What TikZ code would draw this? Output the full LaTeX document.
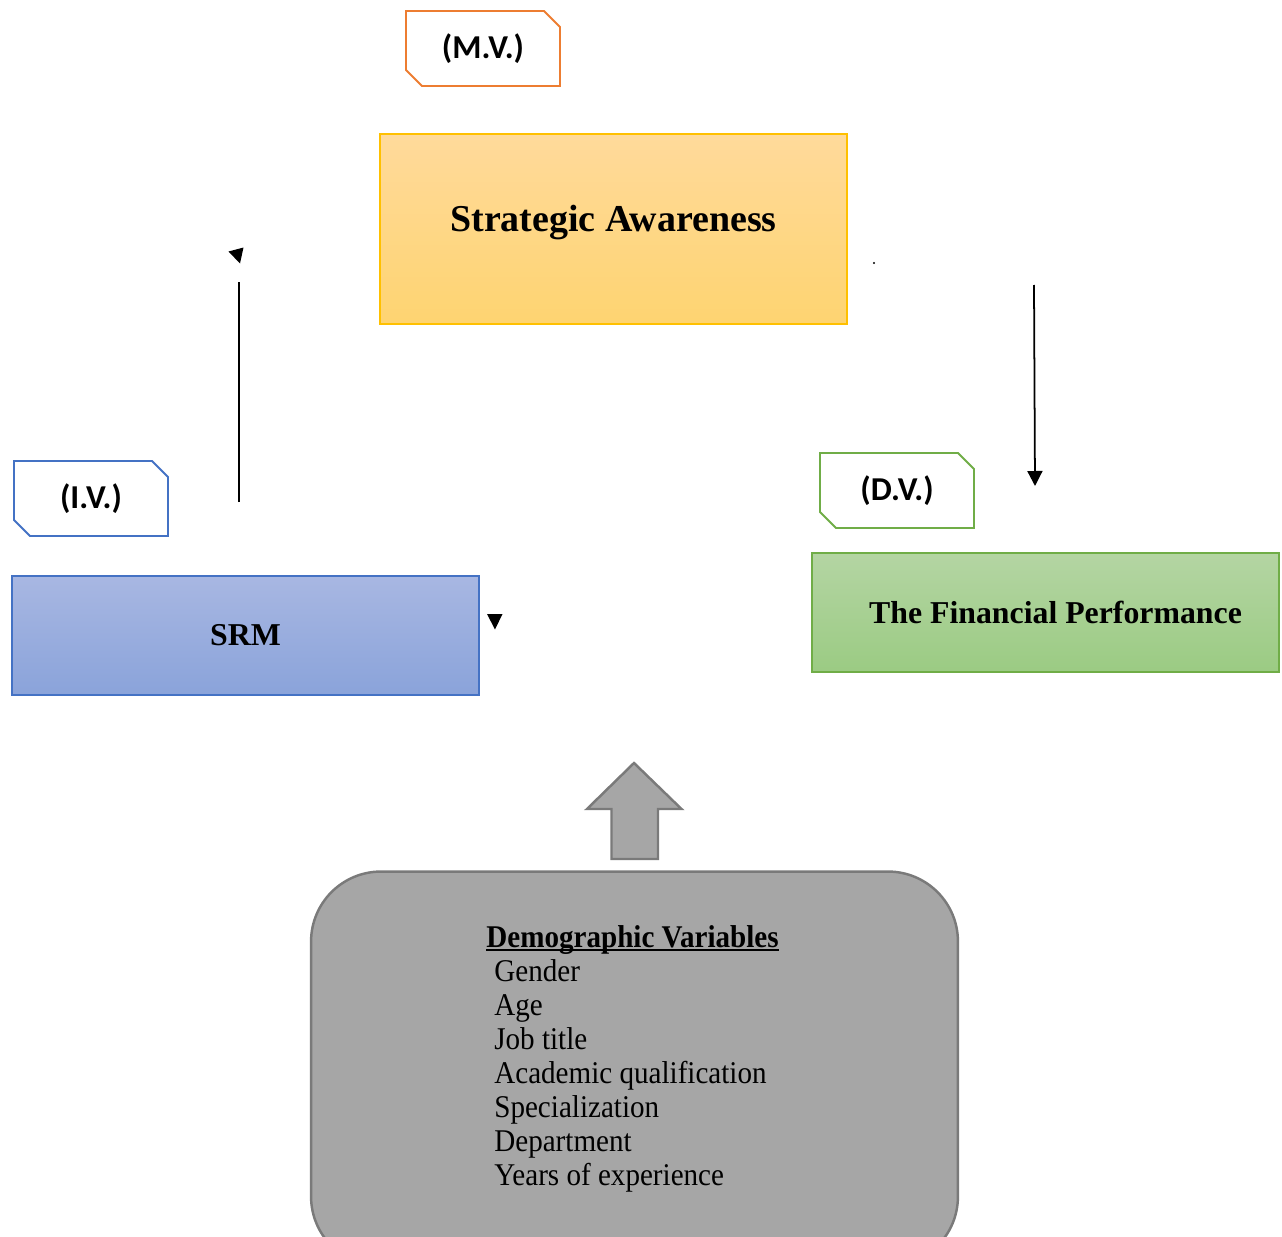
\documentclass[tikz,border=0pt]{standalone}
\usepackage{fontspec}
\setmainfont{Liberation Serif}
\newfontfamily\tagfont{Carlito}
\newfontfamily\demofont[FakeStretch=0.92]{Liberation Serif}
\usetikzlibrary{arrows.meta,calc,shapes.misc}

\definecolor{mvorange}{HTML}{ED7D31}
\definecolor{ivblue}{HTML}{4472C4}
\definecolor{dvgreen}{HTML}{70AD47}
\definecolor{saline}{HTML}{FFC000}
\definecolor{satop}{HTML}{FFDA9B}
\definecolor{sabot}{HTML}{FED471}
\definecolor{srmtop}{HTML}{A8B7E2}
\definecolor{srmbot}{HTML}{8AA3DA}
\definecolor{fptop}{HTML}{B4D5A3}
\definecolor{fpbot}{HTML}{9BCB83}
\definecolor{demofill}{HTML}{A6A6A6}
\definecolor{demoline}{HTML}{7A7A7A}

\begin{document}
\begin{tikzpicture}[x=0.02cm,y=-0.02cm,line join=miter,
  tag/.style={chamfered rectangle, chamfered rectangle corners={north east,south west},
    chamfered rectangle xsep=0.16cm, chamfered rectangle ysep=0.16cm,
    minimum width=3.08cm, minimum height=1.5cm, inner sep=0pt, fill=white,
    line width=1.1pt, font=\tagfont\bfseries\fontsize{19pt}{21pt}\selectfont},
  varbox/.style={draw, line width=0.8pt, minimum width=9.34cm, inner sep=0pt},
  boxtext/.style={inner sep=0pt, font=\bfseries\fontsize{18.1pt}{21pt}\selectfont},
  demotext/.style={anchor=base west, inner sep=0pt, font=\demofont\fontsize{18pt}{19.3pt}\selectfont},
  tip/.style={fill=black, draw=none}]
  \useasboundingbox (0,0) rectangle (1282,1237);
  \clip (0,0) rectangle (1282,1237);

  % Variable boxes
  \node[varbox, draw=saline, top color=satop, bottom color=sabot, minimum height=3.8cm] (sa) at (613.5,229) {};
  \node[boxtext, font=\bfseries\fontsize{21.6pt}{25pt}\selectfont] (satext) at ($(sa.center)+(0,-6)$) {Strategic Awareness};
  \node[varbox, draw=ivblue, top color=srmtop, bottom color=srmbot, minimum height=2.38cm, boxtext] (srm) at (245.5,635.5) {SRM};
  \node[varbox, draw=dvgreen, top color=fptop, bottom color=fpbot, minimum height=2.38cm] (fp) at (1045.5,612.5) {};
  \node[boxtext] (fptext) at ($(fp.center)+(10,0)$) {The Financial Performance};

  % Tags
  \node[tag, draw=mvorange] (mv) at (483,48.5) {(M.V.)};
  \node[tag, draw=ivblue] (iv) at (91,498.5) {(I.V.)};
  \node[tag, draw=dvgreen] (dv) at (897,490.5) {(D.V.)};

  % Arrows (heads drawn loose, as in the original)
  \coordinate (upbot) at (239,502);
  \coordinate (uptop) at (239,282);
  \draw[line width=1pt] (upbot) -- (uptop);
  \fill[tip] (228.5,251.5) -- (243.5,247.5) -- (240,263.5) -- cycle;

  \coordinate (dntop) at (1034,285);
  \coordinate (dnbot) at (1035,486);
  \draw[line width=1pt, -{Triangle[width=0.3cm,length=0.3cm]}] (dntop) -- (dnbot);
  \fill[tip] (874,263) circle (1.2);

  \fill[tip] (487,614) -- (502.5,614) -- (495,629.5) -- cycle;

  % Block arrow
  \draw[fill=demofill, draw=demoline, line width=1.4pt]
    (611.5,859) -- (611.5,809) -- (587,809) -- (634,763) -- (681.5,809)
    -- (658,809) -- (658,859) -- cycle;

  % Demographic box
  \node[draw=demoline, fill=demofill, line width=1.4pt, rounded corners=1.4cm,
    minimum width=12.94cm, minimum height=7.9cm, inner sep=0pt] (demo) at (634.5,1069) {};
  \node[demotext, font=\demofont\bfseries\fontsize{18pt}{19.3pt}\selectfont] (demohead) at (486,947) {Demographic Variables};
  \draw[line width=1.1pt] ($(demohead.base west)+(0,3)$) -- ($(demohead.base east)+(0,3)$);
  \foreach \v [count=\i] in {Gender,Age,Job title,Academic qualification,Specialization,Department,Years of experience}{
    \node[demotext] (dem\i) at (494,947+34*\i) {\v};
  }
\end{tikzpicture}
\end{document}
